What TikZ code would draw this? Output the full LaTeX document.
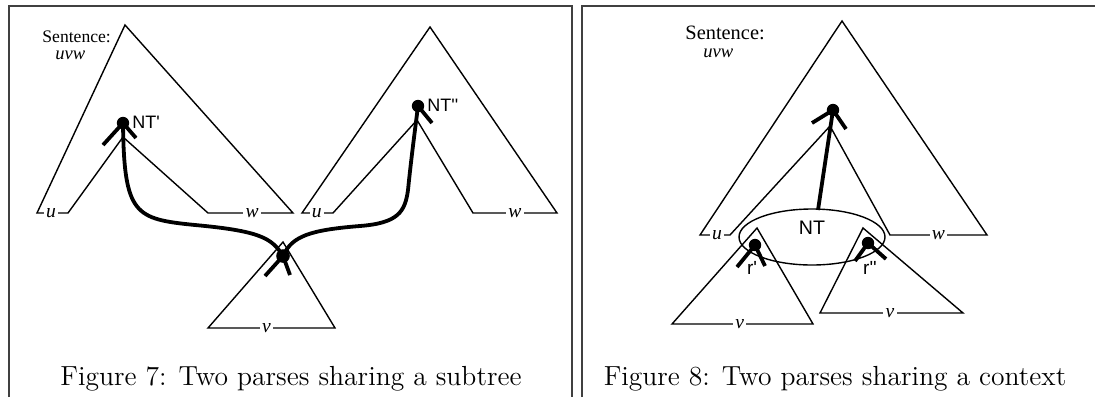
\documentclass[tikz,border=0pt]{standalone}
\usepackage{fontspec}
\newfontfamily\timesfont{Liberation Serif}
\newfontfamily\helvfont{Liberation Sans}
\usetikzlibrary{calc}

\begin{document}
\begin{tikzpicture}[x=0.5pt, y=-0.5pt,
    tri/.style={line width=0.7pt, line join=miter},
    thickline/.style={line width=1.9pt},
    frameline/.style={line width=0.7pt, black!75},
    leaf/.style={fill=white, inner sep=1.2pt, font=\timesfont\itshape\fontsize{9.8}{10}\selectfont},
    ntlabel/.style={inner sep=0pt, font=\helvfont\fontsize{9}{10}\selectfont},
    sentlabel/.style={inner sep=0pt, anchor=west, font=\timesfont\fontsize{8.8}{10}\selectfont},
    captext/.style={inner sep=0pt, anchor=base, font=\fontsize{13.8}{16}\selectfont}]

    \useasboundingbox (0,0) rectangle (1095,397);

    % --- Frames ---
    \draw[frameline] (9,397) -- (9,6) -- (572,6) -- (572,397);
    \draw[frameline] (582,397) -- (582,6) -- (1095,6);

    % --- Figure 7: left parse ---
    \node[sentlabel] (sentA) at (42,37) {Sentence:};
    \node[sentlabel, font=\timesfont\itshape\fontsize{9.3}{10}\selectfont] (uvwA) at (55,55) {uvw};
    \draw[tri] (125,25) -- (293,213) -- (208,213) node[leaf, pos=0.48] (wA) {w}
        -- (123,137) -- (68,213) -- (37,213) node[leaf, pos=0.55] (uA) {u} -- cycle;
    \coordinate (ntA) at (123,123);
    \draw[thickline] (103,145) -- (ntA) -- (136,138);
    \fill (ntA) circle[radius=3.1pt];
    \node[ntlabel, anchor=west] (ntAlabel) at (132,122) {NT'};

    % --- Figure 7: right parse ---
    \draw[tri] (430,27) -- (557,213) -- (473,213) node[leaf, pos=0.5] (wB) {w}
        -- (417,120) -- (333,213) -- (302,213) node[leaf, pos=0.52] (uB) {u} -- cycle;
    \coordinate (ntB) at (418,106);
    \draw[thickline] (ntB) -- (432,123);
    \fill (ntB) circle[radius=3.1pt];
    \node[ntlabel, anchor=west] (ntBlabel) at (427,105) {NT''};

    % --- Figure 7: shared subtree ---
    \draw[tri] (283,242) -- (335,328) -- (208,328) node[leaf, pos=0.54] (vA) {v} -- cycle;
    \coordinate (shared) at (283,256);
    \draw[thickline] (ntA) .. controls (124,215) and (135,219) .. (195,225)
        .. controls (260,231) and (272,238) .. (shared);
    \draw[thickline] (shared) .. controls (292,236) and (310,230) .. (360,226)
        .. controls (398,223) and (405,212) .. (408,190)
        .. controls (411,160) and (415,130) .. (ntB);
    \draw[thickline] (265,276) -- (shared) -- (290,275);
    \fill (shared) circle[radius=3.4pt];

    \node[captext] (capA) at (291,385) {Figure 7: Two parses sharing a subtree};

    % --- Figure 8: context ---
    \node[sentlabel, font=\timesfont\fontsize{10.2}{11}\selectfont] (sentB) at (685,33) {Sentence:};
    \node[sentlabel, font=\timesfont\itshape\fontsize{9.3}{10}\selectfont] (uvwB) at (703,53) {uvw};
    \draw[tri] (842,21) -- (987,235) -- (890,235) node[leaf, pos=0.5] (wC) {w}
        -- (830,126) -- (730,235) -- (700,235) node[leaf, pos=0.43] (uC) {u} -- cycle;

    % shared context NT
    \coordinate (ntC) at (833,110);
    \coordinate (ctxtop) at (818,210);
    \draw[tri] (812,237) ellipse[x radius=36.5pt, y radius=14pt];
    \node[ntlabel, font=\helvfont\fontsize{9.8}{10}\selectfont] (ntClabel) at (812,228) {NT};
    \draw[thickline] (ntC) -- (ctxtop);
    \draw[thickline] (812,123) -- (ntC) -- (846,129);
    \fill (ntC) circle[radius=3.1pt];

    % subtree r'
    \draw[tri] (757,228) -- (813,324) -- (672,324) node[leaf, pos=0.52] (vB) {v} -- cycle;
    \coordinate (rA) at (755,245);
    \draw[thickline] (737,267) -- (rA) -- (765,266);
    \fill (rA) circle[radius=3.1pt];
    \node[ntlabel, font=\helvfont\fontsize{9.5}{10}\selectfont] (rAlabel) at (752,268) {r'};

    % subtree r''
    \draw[tri] (863,228) -- (963,313) -- (820,313) node[leaf, pos=0.51] (vC) {v} -- cycle;
    \coordinate (rB) at (868,243);
    \draw[thickline] (855,261) -- (rB) -- (886,259);
    \fill (rB) circle[radius=3.1pt];
    \node[ntlabel, font=\helvfont\fontsize{9.5}{10}\selectfont] (rBlabel) at (870,268) {r''};

    \node[captext] (capB) at (835,385) {Figure 8: Two parses sharing a context};

\end{tikzpicture}
\end{document}
